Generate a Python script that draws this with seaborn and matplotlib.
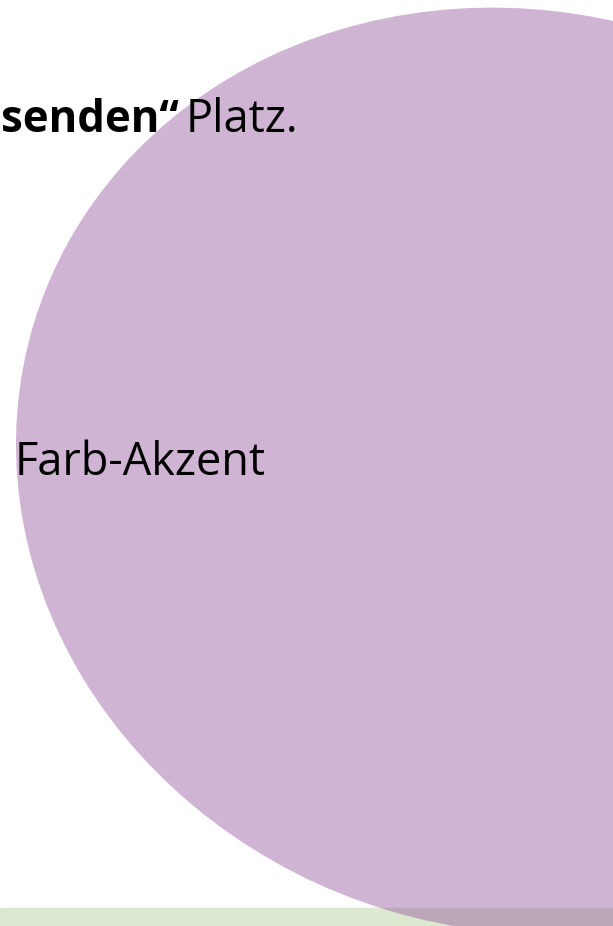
import seaborn as sns
import matplotlib.pyplot as plt
from matplotlib.patches import Ellipse

# text pieces shown on the slide fragment
bold_words = ["senden\u201c"]
plain_words = ["Platz."]
accent_label = ["Farb-Akzent"]

# accent shape: center x, center y, width, height, tilt (deg); bottom strip top/bottom
blob = [521, 471, 1018, 918, 16.8]
strip_y = [908, 926]

sns.set_theme(style="white")
plt.rcParams['font.family'] = ['Open Sans', 'DejaVu Sans']

fig = plt.figure(figsize=(6.13, 9.26), dpi=100)
ax = fig.add_axes([0, 0, 1, 1])
ax.set_xlim(0, 613)
ax.set_ylim(926, 0)
ax.axis('off')

# light green strip at the bottom
ax.axhspan(strip_y[0], strip_y[1], color='#dce9d0', zorder=1)

# translucent purple accent
ax.add_patch(Ellipse((blob[0], blob[1]), blob[2], blob[3], angle=blob[4],
                     facecolor='#8b4594', alpha=0.4, edgecolor='none', zorder=2))

# headline line
ax.text(1, 132, bold_words[0], fontsize=31.5, fontweight='bold', color='black',
        va='baseline', ha='left', zorder=3)
ax.text(186, 132, plain_words[0], fontsize=32.5, color='black',
        va='baseline', ha='left', zorder=3)

# label inside the accent
ax.text(15, 475, accent_label[0], fontsize=32.5, color='black',
        va='baseline', ha='left', zorder=3)

fig.savefig('out.png', dpi=100)
